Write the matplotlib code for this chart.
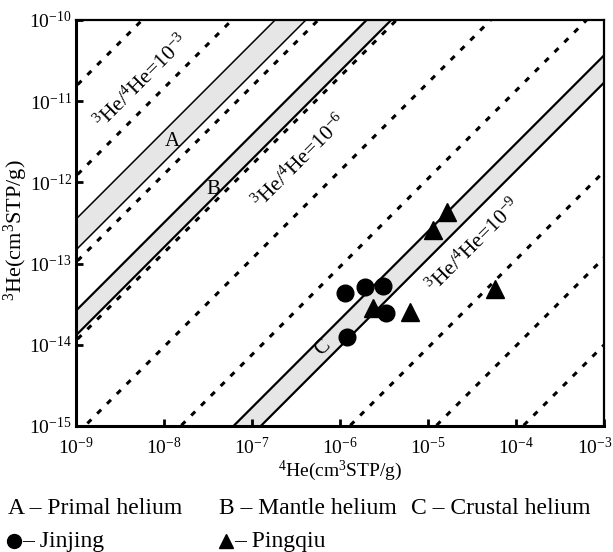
import numpy as np
import matplotlib
matplotlib.use('Agg')
import matplotlib.pyplot as plt
from matplotlib.transforms import ScaledTranslation
from matplotlib.lines import Line2D

plt.rcParams['font.family'] = ['Liberation Serif', 'DejaVu Sans']
plt.rcParams['mathtext.fontset'] = 'custom'
plt.rcParams['mathtext.rm'] = 'Liberation Serif'
plt.rcParams['mathtext.it'] = 'Liberation Serif:italic'
plt.rcParams['mathtext.bf'] = 'Liberation Serif:bold'
plt.rcParams['lines.scale_dashes'] = False

# ---------------- data ----------------
jinjing_he4 = [1.14e-6, 1.92e-6, 3.08e-6, 3.33e-6, 1.20e-6]
jinjing_he3 = [4.39e-14, 5.20e-14, 5.35e-14, 2.49e-14, 1.23e-14]
pingqiu_he4 = [1.64e-5, 1.14e-5, 2.37e-6, 6.24e-6, 5.77e-5]
pingqiu_he3 = [4.35e-13, 2.61e-13, 2.87e-14, 2.56e-14, 4.91e-14]

# reference lines: log10(4He) where each line meets 3He = 1e-15
dashed_log_he4 = [-12.86, -11.84, -10.86, -9.97, -8.90, -7.81, -5.89, -4.91, -3.92]
band_names = ['A', 'B', 'C']
band_upper_log_he4 = [-11.35, -10.31, -7.21]
band_lower_log_he4 = [-11.00, -10.03, -6.90]
line_slope = 1.084          # log-log slope of the reference lines
ratio_exponents = ['-3', '-6', '-9']
x_ticks = [1e-9, 1e-8, 1e-7, 1e-6, 1e-5, 1e-4, 1e-3]
y_ticks = [1e-15, 1e-14, 1e-13, 1e-12, 1e-11, 1e-10]
legend_row1 = ['A \u2013 Primal helium', 'B \u2013 Mantle helium', 'C \u2013 Crustal helium']
legend_row2 = ['\u2013 Jinjing', '\u2013 Pingqiu']
legend_markers = ['o', '^']

XLIM = (1e-9, 1e-3)
YLIM = (1e-15, 1e-10)

def line_y(logx, b):
    return 10 ** (-15 + line_slope * (np.asarray(logx) - b))

fig = plt.figure(figsize=(6.13, 5.52), dpi=100)
ax = fig.add_axes([0.124, 0.2283, 0.8613, 0.7355])
ax.set_xscale('log')
ax.set_yscale('log')

lx = np.array([np.log10(XLIM[0]) - 1, np.log10(XLIM[1]) + 1])
xx = 10 ** lx

# bands
band_lw = [1.1, 1.6, 1.6]
for bu, bl, lw in zip(band_upper_log_he4, band_lower_log_he4, band_lw):
    ax.fill_between(xx, line_y(lx, bu), line_y(lx, bl), color='#e6e6e6', lw=0, zorder=1)
    ax.plot(xx, line_y(lx, bu), color='black', lw=lw, zorder=2)
    ax.plot(xx, line_y(lx, bl), color='black', lw=lw, zorder=2)

# dashed iso-ratio lines
for b in dashed_log_he4:
    ax.plot(xx, line_y(lx, b), color='black', lw=2.2, dashes=(4, 6), zorder=2)

# samples
ax.plot(pingqiu_he4, pingqiu_he3, linestyle='none', marker='^', ms=12.5,
        color='black', zorder=5)
ax.plot(jinjing_he4, jinjing_he3, linestyle='none', marker='o', ms=12,
        color='black', zorder=6)

# in-plot labels
label_pos = [(10 ** -8.25, 10 ** -10.764), (10 ** -6.455, 10 ** -11.749), (10 ** -4.477, 10 ** -12.783)]
for (px, py), e in zip(label_pos, ratio_exponents):
    ax.text(px, py, r'$^{3}$He/$^{4}$He=10$^{' + e + '}$',
            rotation=45, rotation_mode='anchor', ha='center', va='center',
            fontsize=15.5, zorder=4)
band_label_pos = [(10 ** -7.909, 10 ** -11.50, 0), (10 ** -7.443, 10 ** -12.085, 0),
                  (10 ** -6.193, 10 ** -14.039, 45)]
for name, (px, py, rot) in zip(band_names, band_label_pos):
    ax.text(px, py, name, ha='center', va='center', fontsize=15, rotation=rot, zorder=4)

ax.set_xlim(*XLIM)
ax.set_ylim(*YLIM)
ax.set_xticks(x_ticks)
ax.set_yticks(y_ticks)
ax.minorticks_off()
ax.tick_params(direction='in', length=5, width=2, labelsize=14)
ax.tick_params(axis='x', pad=8)
ax.tick_params(axis='y', pad=3)
for s in ['left', 'bottom']:
    ax.spines[s].set_linewidth(2.2)
for s in ['top', 'right']:
    ax.spines[s].set_linewidth(1.6)

ax.set_xlabel(r'$^{4}$He(cm$^{3}$STP/g)', fontsize=14)
ax.set_ylabel(r'$^{3}$He(cm$^{3}$STP/g)', fontsize=16)
ax.xaxis.set_label_coords(0.5, -0.08)
ax.yaxis.set_label_coords(-0.088, 0.483)

fig.canvas.draw()
last = ax.xaxis.get_major_ticks()[-1].label1
last.set_transform(last.get_transform() + ScaledTranslation(-9 / 100, 0, fig.dpi_scale_trans))

W, H = 613, 552
row1_x = [8, 219, 411]
for t, x in zip(legend_row1, row1_x):
    fig.text(x / W, 1 - 509 / H, t, fontsize=17, va='center', ha='left')
row2_marker_x = [14, 226]
row2_text_x = [22, 234]
for t, m, mx, tx in zip(legend_row2, legend_markers, row2_marker_x, row2_text_x):
    fig.add_artist(Line2D([mx / W], [1 - 541 / H], marker=m, ms=10, color='black',
                          linestyle='none', transform=fig.transFigure))
    fig.text(tx / W, 1 - 542 / H, t, fontsize=17, va='center', ha='left')

fig.savefig('out.png', dpi=100)
